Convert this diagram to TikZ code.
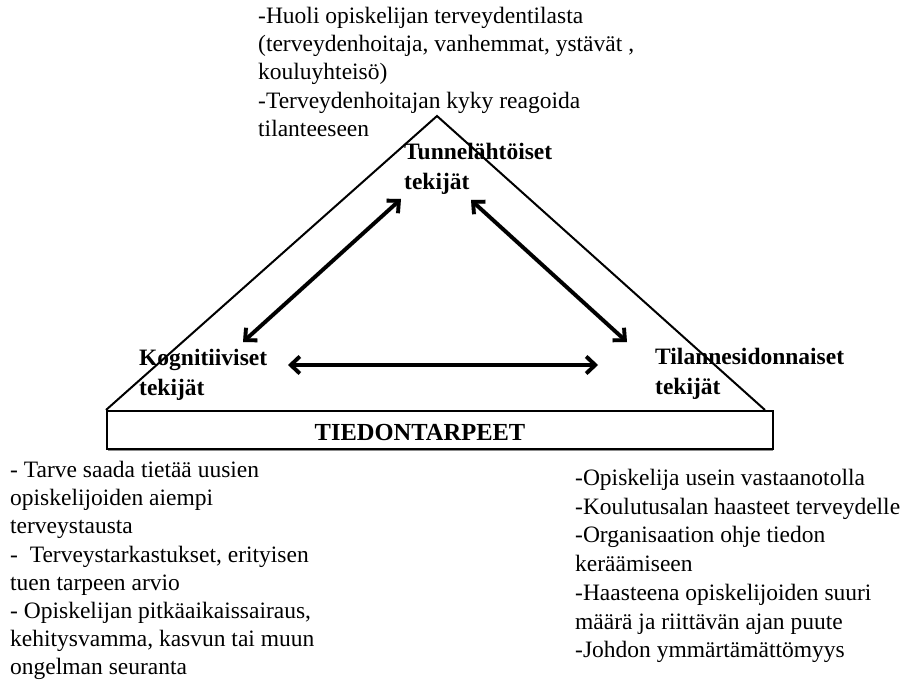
\documentclass[tikz,border=0pt]{standalone}
\usepackage{fontspec}
\setmainfont{Liberation Serif}
\usetikzlibrary{arrows.meta}
\tikzset{
  body/.style={anchor=north west, inner sep=0pt, align=left,
    font=\fontsize{23.5}{28.2}\selectfont},
  factor/.style={anchor=north west, inner sep=0pt, align=left,
    font=\fontsize{23.5}{29.5}\selectfont\bfseries},
  frame/.style={line width=2pt, line join=miter},
  barb/.tip={Straight Barb[length=9pt,width=17pt]},
  twoway/.style={line width=3.8pt, barb-barb},
  twowayshadow/.style={line width=4.2pt, black!20, barb-barb}
}
\begin{document}
\begin{tikzpicture}[x=1pt,y=-1pt]
\useasboundingbox[fill=white] (0,0) rectangle (908,683);

% triangle and base bar
\coordinate (apex) at (437,116);
\coordinate (bl) at (106,410);
\coordinate (br) at (765,410);
\draw[frame] (bl) -- (apex) -- (br);
\draw[black!45, line width=1.2pt] (108,450.5) -- (773,450.5);
\node[draw, line width=2.4pt, minimum width=666pt, minimum height=38pt,
  inner sep=0pt, anchor=north west, fill=white] (bar) at (106,410) {};
\node[font=\fontsize{24.5}{28}\selectfont\bfseries, anchor=base] (needs)
  at (420,440) {TIEDONTARPEET};

% factor labels
\node[factor] (emo) at (404,143) {Tunnelähtöiset\\tekijät};
\node[factor] (cog) at (139,349) {Kognitiiviset\\tekijät};
\node[factor] (sit) at (655,348) {Tilannesidonnaiset\\tekijät};

% arrow end points
\coordinate (emoL) at (401,199);
\coordinate (emoR) at (471,200);
\coordinate (cogT) at (243,342);
\coordinate (sitT) at (627,342);
\coordinate (cogR) at (288,365);
\coordinate (sitL) at (598,365);

% soft shadows under the arrows
\begin{scope}[shift={(1.5,1.8)}]
\draw[twowayshadow] (cogT) -- (emoL);
\draw[twowayshadow] (emoR) -- (sitT);
\draw[twowayshadow] (cogR) -- (sitL);
\end{scope}
\draw[twoway] (cogT) -- (emoL);
\draw[twoway] (emoR) -- (sitT);
\draw[twoway] (cogR) -- (sitL);

% explanatory texts
\node[body] (top) at (258,7) {-Huoli opiskelijan terveydentilasta\\
(terveydenhoitaja, vanhemmat, ystävät ,\\
kouluyhteisö)\\
-Terveydenhoitajan kyky reagoida\\
tilanteeseen};
\node[body] (left) at (10,461) {- Tarve saada tietää uusien\\
opiskelijoiden aiempi\\
terveystausta\\
-\ \ Terveystarkastukset, erityisen\\
tuen tarpeen arvio\\
- Opiskelijan pitkäaikaissairaus,\\
kehitysvamma, kasvun tai muun\\
ongelman seuranta};
\node[body, font=\fontsize{23.5}{28.7}\selectfont] (right) at (575,469)
{-Opiskelija usein vastaanotolla\\
-Koulutusalan haasteet terveydelle\\
-Organisaation ohje tiedon\\
keräämiseen\\
-Haasteena opiskelijoiden suuri\\
määrä ja riittävän ajan puute\\
-Johdon ymmärtämättömyys};
\end{tikzpicture}
\end{document}
